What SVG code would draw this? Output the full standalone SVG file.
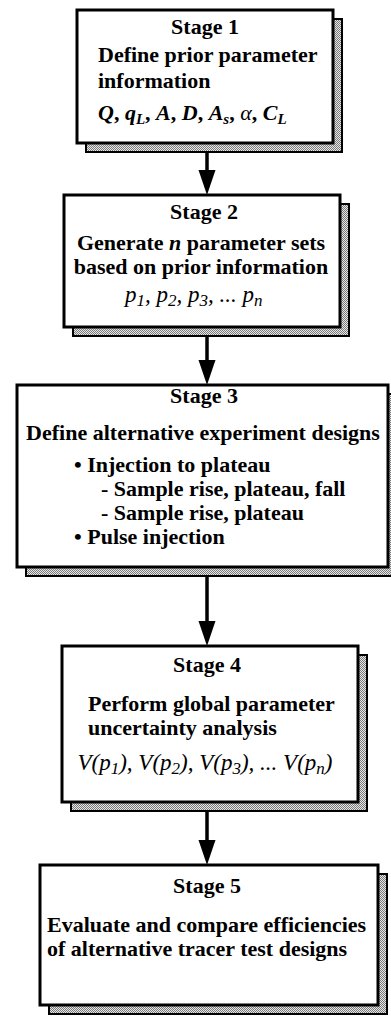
<svg xmlns="http://www.w3.org/2000/svg" width="391" height="1017" viewBox="0 0 391 1017">
<style>
.box{fill:#fff;stroke:#000;stroke-width:3}
.shadow{fill:url(#stip);stroke:#000;stroke-width:2}
text{font-family:"Liberation Serif","Times New Roman",serif;font-size:22px;font-weight:bold;fill:#000}
.c{text-anchor:middle}
.m{font-style:italic;font-weight:normal;font-size:23px}
.mb{font-style:italic;font-weight:bold}
.sub{font-size:15px}
.m .sub{font-size:17px}
.arrow{stroke:#000;stroke-width:3.5;fill:none}
</style>
<defs>
<pattern id="stip" width="2" height="2" patternUnits="userSpaceOnUse">
<rect width="2" height="2" fill="#e6e6e6"/>
<rect width="1" height="1" fill="#7a7a7a"/>
<rect x="1" y="1" width="1" height="1" fill="#7a7a7a"/>
</pattern>
</defs>
<g id="connectors">
<line class="arrow" x1="207" y1="153" x2="207" y2="172"/><path d="M198.5,170 L215.5,170 L207,195 Z"/>
<line class="arrow" x1="207" y1="336" x2="207" y2="362"/><path d="M198.5,360 L215.5,360 L207,385 Z"/>
<line class="arrow" x1="207" y1="576" x2="207" y2="623"/><path d="M198.5,621 L215.5,621 L207,646 Z"/>
<line class="arrow" x1="207" y1="811" x2="207" y2="842"/><path d="M198.5,840 L215.5,840 L207,865 Z"/>
</g>
<g id="stage1">
<rect class="shadow" x="86" y="19" width="256" height="133"/>
<rect class="box" x="77" y="10" width="256" height="133"/>
<text class="c" x="205" y="34">Stage 1</text>
<text x="98" y="62">Define prior parameter</text>
<text x="98" y="88">information</text>
<text x="98" y="120" class="mb">Q<tspan font-style="normal">, </tspan>q<tspan class="sub" dy="4">L</tspan><tspan dy="-4" font-style="normal">, </tspan>A<tspan font-style="normal">, </tspan>D<tspan font-style="normal">, </tspan>A<tspan class="sub" dy="4">s</tspan><tspan dy="-4" font-style="normal">, </tspan><tspan font-weight="normal">α</tspan><tspan font-style="normal">, </tspan>C<tspan class="sub" dy="4">L</tspan></text>
</g>
<g id="stage2">
<rect class="shadow" x="73" y="204" width="276" height="132"/>
<rect class="box" x="64" y="195" width="276" height="132"/>
<text class="c" x="204" y="219">Stage 2</text>
<text class="c" x="201" y="250">Generate <tspan font-style="italic">n</tspan> parameter sets</text>
<text class="c" x="201" y="274">based on prior information</text>
<text x="125" y="302" class="m">p<tspan class="sub" dy="4">1</tspan><tspan dy="-4">, p</tspan><tspan class="sub" dy="4">2</tspan><tspan dy="-4">, p</tspan><tspan class="sub" dy="4">3</tspan><tspan dy="-4">, ... p</tspan><tspan class="sub" dy="4">n</tspan></text>
</g>
<g id="stage3">
<rect class="shadow" x="26" y="394" width="371" height="182"/>
<rect class="box" x="17" y="385" width="371" height="182"/>
<text class="c" x="204" y="403">Stage 3</text>
<text class="c" x="203" y="440">Define alternative experiment designs</text>
<text x="74" y="472">• Injection to plateau</text>
<text x="101" y="496">- Sample rise, plateau, fall</text>
<text x="101" y="520">- Sample rise, plateau</text>
<text x="74" y="544">• Pulse injection</text>
</g>
<g id="stage4">
<rect class="shadow" x="71" y="655" width="296" height="156"/>
<rect class="box" x="62" y="646" width="296" height="156"/>
<text class="c" x="207" y="672">Stage 4</text>
<text x="88" y="711">Perform global parameter</text>
<text x="88" y="735">uncertainty analysis</text>
<text class="c m" x="205" y="770">V(p<tspan class="sub" dy="4">1</tspan><tspan dy="-4">), V(p</tspan><tspan class="sub" dy="4">2</tspan><tspan dy="-4">), V(p</tspan><tspan class="sub" dy="4">3</tspan><tspan dy="-4">), ... V(p</tspan><tspan class="sub" dy="4">n</tspan><tspan dy="-4">)</tspan></text>
</g>
<g id="stage5">
<rect class="shadow" x="49" y="874" width="338" height="140"/>
<rect class="box" x="40" y="865" width="338" height="140"/>
<text class="c" x="207" y="893">Stage 5</text>
<text x="47" y="932">Evaluate and compare efficiencies</text>
<text x="47" y="956">of alternative tracer test designs</text>
</g>
</svg>
